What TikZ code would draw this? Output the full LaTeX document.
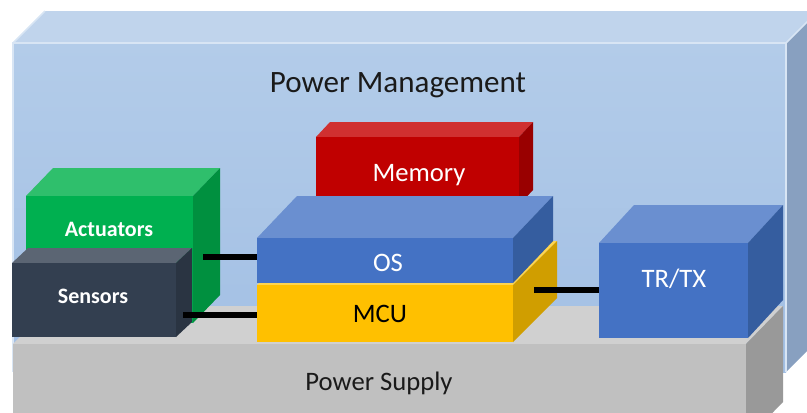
\documentclass[tikz,border=0pt]{standalone}
\usepackage{fontspec}
\setmainfont{Carlito}
\usetikzlibrary{fit}
\definecolor{pmFt}{HTML}{B3CCE9}
\definecolor{pmFb}{HTML}{A2BFE4}
\definecolor{pmT}{HTML}{C0D4EC}
\definecolor{pmS}{HTML}{88A0C0}
\definecolor{pmE}{HTML}{D8E5F4}
\definecolor{psF}{HTML}{C0C0C0}
\definecolor{psT}{HTML}{D0D0D0}
\definecolor{psS}{HTML}{999999}
\definecolor{actF}{HTML}{00B050}
\definecolor{actT}{HTML}{2FBF6C}
\definecolor{actS}{HTML}{00903F}
\definecolor{senF}{HTML}{333F50}
\definecolor{senT}{HTML}{5B6573}
\definecolor{senS}{HTML}{2A3442}
\definecolor{memF}{HTML}{C00000}
\definecolor{memT}{HTML}{D03030}
\definecolor{memS}{HTML}{990000}
\definecolor{osF}{HTML}{4472C4}
\definecolor{osT}{HTML}{6A8FD0}
\definecolor{osS}{HTML}{355D9F}
\definecolor{mcuF}{HTML}{FFC000}
\definecolor{mcuT}{HTML}{FFD54F}
\definecolor{mcuS}{HTML}{D09E00}
\definecolor{txt}{HTML}{1A1A1A}
% #1 name, #2 left, #3 top, #4 right, #5 bottom, #6 depth x, #7 depth y, #8 colour prefix
\newcommand\mycuboid[8]{%
  \fill[#8T] (#2,#3) -- (#2+#6,#3-#7) -- (#4+#6,#3-#7) -- (#4,#3) -- cycle;
  \fill[#8S] (#4,#3) -- (#4+#6,#3-#7) -- (#4+#6,#5-#7) -- (#4,#5) -- cycle;
  \node[fit={(#2,#3) (#4,#5)}, inner sep=0pt, fill=#8F] (#1) {};
}
\tikzset{
  conn/.style={line width=4.3pt, black},
  lbl/.style={anchor=base, inner sep=0pt, font=\fontsize{20}{24}\selectfont},
  blbl/.style={anchor=base, inner sep=0pt, text=white, font=\fontsize{16.5}{20}\selectfont\bfseries}
}
\begin{document}
\begin{tikzpicture}[x=0.75pt,y=-0.75pt]
\useasboundingbox (0,0) rectangle (807,412);
\clip (0,0) rectangle (807,412);
% Power management enclosure
\fill[pmT] (13,43) -- (45,11) -- (818,11) -- (786,43) -- cycle;
\fill[pmS] (786,43) -- (818,11) -- (818,340) -- (786,372) -- cycle;
\shade[top color=pmFt, bottom color=pmFb] (13,43) rectangle (786,372);
\draw[pmE, line width=1.2pt] (13,372) -- (13,43) -- (786,43) -- (786,372);
\draw[pmE, line width=1.2pt] (13,43) -- (45,11);
\draw[pmE, line width=1.2pt] (786,43) -- (818,11);
% Power supply
\mycuboid{ps}{13}{344}{746}{440}{37}{38}{ps}
% Actuators and sensors
\mycuboid{act}{26}{196}{193}{323}{27}{28}{act}
\mycuboid{sen}{12}{263}{176}{337}{16}{15}{sen}
% Memory, MCU, OS
\mycuboid{mem}{316}{137}{519}{205}{14}{15}{mem}
\mycuboid{mcu}{257}{285}{513}{342}{44}{44}{mcu}
\mycuboid{os}{257}{238}{513}{283}{40}{42}{os}
% TR/TX
\mycuboid{tr}{599}{243}{748}{338}{35}{38}{os}
% connectors
\coordinate (c1) at (203,257);
\coordinate (c2) at (183,315);
\coordinate (c3) at (534,290);
\draw[conn] (c1) -- (c1 -| os.west);
\draw[conn] (c2) -- (c2 -| mcu.west);
\draw[conn] (c3) -- (c3 -| tr.west);
% labels
\node[lbl, text=txt, font=\fontsize{23.3}{27}\selectfont] (tpm) at (398,92) {Power Management};
\node[lbl, text=white] (tmem) at (419,181) {Memory};
\node[lbl, text=white] (tos) at (388,271) {OS};
\node[lbl, text=black] (tmcu) at (380,322.5) {MCU};
\node[lbl, text=white] (ttr) at (674,287) {TR/TX};
\node[lbl, text=txt] (tps) at (379,390) {Power Supply};
\node[blbl] (tact) at (109,236) {Actuators};
\node[blbl] (tsen) at (93,303) {Sensors};
\end{tikzpicture}
\end{document}
